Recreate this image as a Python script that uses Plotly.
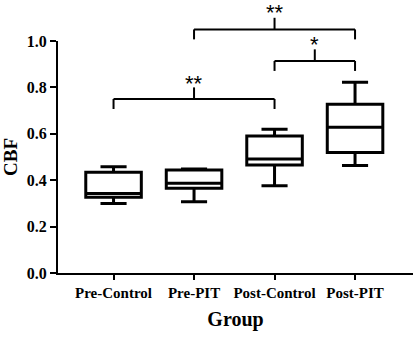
import plotly.graph_objects as go

groups = ["Pre-Control", "Pre-PIT", "Post-Control", "Post-PIT"]
lower_whisker = [0.300, 0.307, 0.376, 0.463]
q1 = [0.326, 0.365, 0.466, 0.519]
median = [0.343, 0.387, 0.491, 0.628]
q3 = [0.434, 0.444, 0.590, 0.727]
upper_whisker = [0.458, 0.448, 0.620, 0.822]
y_ticks = [0.0, 0.2, 0.4, 0.6, 0.8, 1.0]

# significance brackets: (left group index, right group index, level, label)
brackets = [(1, 3, 1.05, "**"), (2, 3, 0.914, "*"), (0, 2, 0.75, "**")]
star_levels = [1.1246, 0.9845, 0.8164]

FONT = "Liberation Serif"

fig = go.Figure()
fig.add_trace(go.Box(
    x=list(range(len(groups))),
    q1=q1, median=median, q3=q3,
    lowerfence=lower_whisker, upperfence=upper_whisker,
    line=dict(color="black", width=3),
    fillcolor="white",
    width=0.69,
    whiskerwidth=0.47,
    boxpoints=False,
    showlegend=False,
    hoverinfo="skip",
))

for (a, b, lvl, lab), sy in zip(brackets, star_levels):
    drop = 0.043
    ln = dict(color="black", width=2)
    fig.add_shape(type="line", xref="x", yref="paper", x0=a, x1=b, y0=lvl, y1=lvl, line=ln)
    fig.add_shape(type="line", xref="x", yref="paper", x0=a, x1=a, y0=lvl, y1=lvl - drop, line=ln)
    fig.add_shape(type="line", xref="x", yref="paper", x0=b, x1=b, y0=lvl, y1=lvl - drop, line=ln)
    xm = (a + b) / 2
    fig.add_shape(type="line", xref="x", yref="paper", x0=xm, x1=xm, y0=lvl, y1=lvl + 0.05, line=ln)
    fig.add_annotation(x=xm, y=sy, xref="x", yref="paper", text=lab,
                       showarrow=False, yanchor="middle",
                       font=dict(family="Liberation Sans", size=22, color="black"))

fig.update_layout(
    width=413, height=337,
    margin=dict(l=58, r=0, t=41, b=64, autoexpand=False),
    plot_bgcolor="white", paper_bgcolor="white",
    xaxis=dict(
        range=[-0.69, 3.72], automargin=False,
        tickmode="array", tickvals=list(range(len(groups))), ticktext=groups,
        showline=True, linecolor="black", linewidth=2,
        ticks="outside", ticklen=5, tickwidth=2, tickcolor="black",
        tickfont=dict(family=FONT, size=15, color="black", weight="bold"),
        showgrid=False, zeroline=False,
        title=dict(text="<b>Group</b>", font=dict(family=FONT, size=20, color="black"), standoff=12),
    ),
    yaxis=dict(
        range=[0, 1.0], automargin=False,
        tickmode="array", tickvals=y_ticks, tickformat=".1f",
        showline=True, linecolor="black", linewidth=2,
        ticks="outside", ticklen=6, tickwidth=2, tickcolor="black",
        tickfont=dict(family=FONT, size=16, color="black", weight="bold"),
        showgrid=False, zeroline=False,
        title=dict(text="<b>CBF</b>", font=dict(family=FONT, size=19, color="black"), standoff=15),
    ),
)

# remove the browser's default 8px body margin so the figure fills the window
fig.write_html("out.html", config={"displayModeBar": False},
               post_script="document.body.style.margin='0';document.body.style.overflow='hidden';")
